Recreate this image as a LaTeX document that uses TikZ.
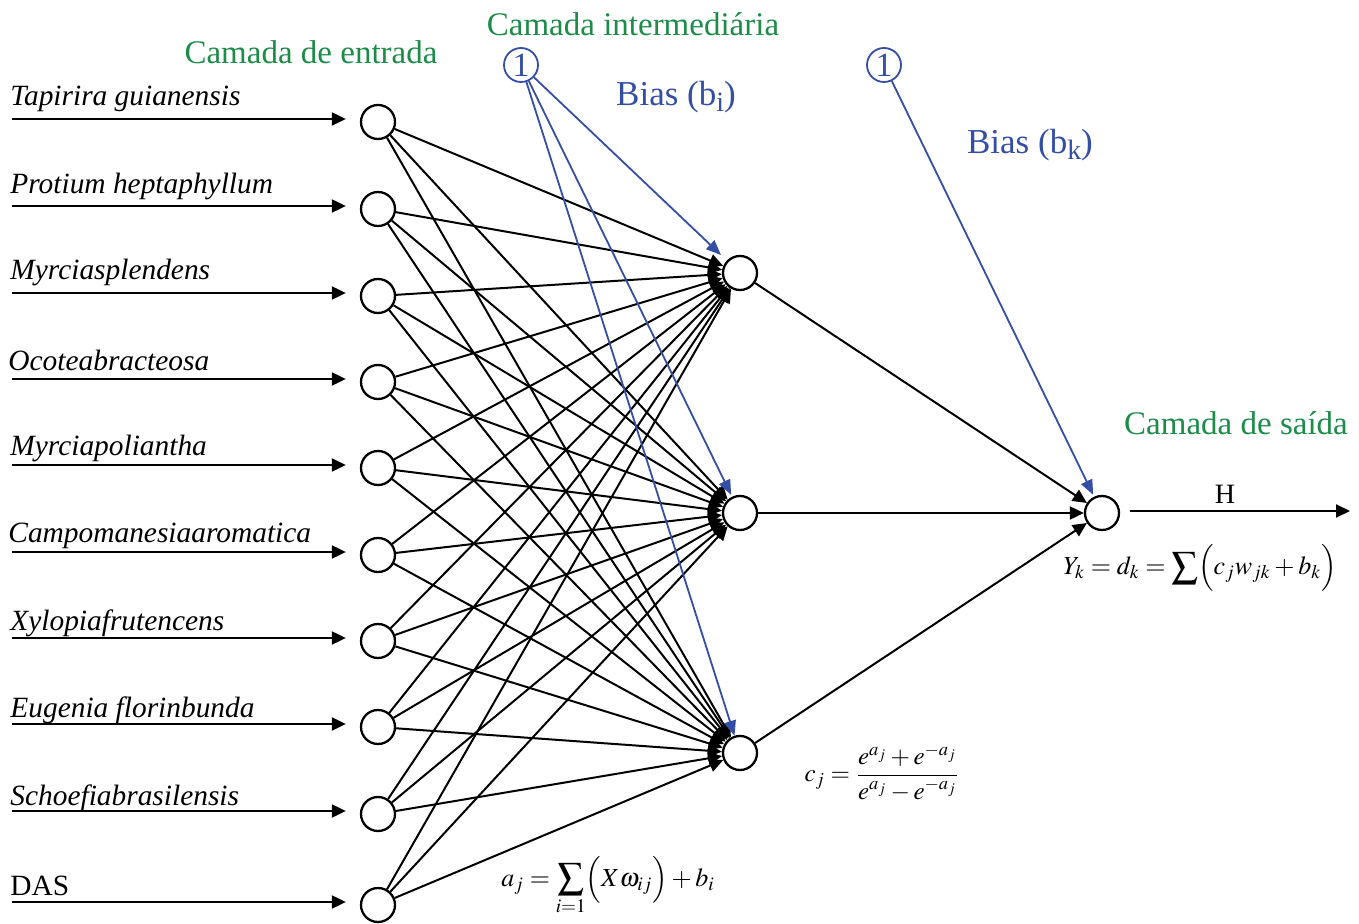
\documentclass[tikz,border=0pt]{standalone}
\usepackage{mathptmx}
\usepackage[no-math]{fontspec}
\setmainfont{Liberation Serif}
\usetikzlibrary{arrows.meta}
\definecolor{lgreen}{RGB}{28,140,72}
\definecolor{lblue}{RGB}{52,78,165}
\tikzset{
  neuron/.style={circle,draw,line width=1.15pt,minimum size=17pt,inner sep=0pt},
  biasnode/.style={circle,draw=lblue,text=lblue,line width=0.9pt,minimum size=17pt,inner sep=0pt,font=\fontsize{17}{17}\selectfont},
  conn/.style={line width=1pt,-{Triangle[length=7pt,width=6.5pt]}},
  bconn/.style={line width=0.9pt,draw=lblue,-{Triangle[length=7.5pt,width=6pt]},lblue},
  inlabel/.style={anchor=base west,inner sep=0pt,font=\fontsize{14.7}{15}\selectfont\itshape},
  greenlabel/.style={text=lgreen,inner sep=0pt,font=\fontsize{16.5}{17}\selectfont},
  bluelabel/.style={text=lblue,inner sep=0pt,font=\fontsize{17.5}{18}\selectfont},
  formula/.style={inner sep=0pt,font=\fontsize{13}{14}\selectfont}
}
\begin{document}
\begin{tikzpicture}[x=0.5pt,y=-0.5pt]
\useasboundingbox (0,0) rectangle (1359,924);
% input nodes
\foreach \i/\y in {1/122,2/209,3/296,4/382,5/468,6/555,7/641,8/727,9/814,10/905}{
  \node[neuron] (n\i) at (378,\y) {};
  \coordinate (s\i) at (12,\y-3);
  \draw[conn,shorten >=7pt] (s\i) -- (n\i.west |- s\i);
}
% labels
\node[inlabel] (l1) at (10,106) {Tapirira guianensis};
\node[inlabel] (l2) at (10,194) {Protium heptaphyllum};
\node[inlabel] (l3) at (10,280) {Myrciasplendens};
\node[inlabel] (l4) at (8,371) {Ocoteabracteosa};
\node[inlabel] (l5) at (10,456) {Myrciapoliantha};
\node[inlabel] (l6) at (8,542) {Campomanesiaaromatica};
\node[inlabel] (l7) at (10,630) {Xylopiafrutencens};
\node[inlabel] (l8) at (10,717) {Eugenia florinbunda};
\node[inlabel] (l9) at (10,805) {Schoefiabrasilensis};
\node[inlabel,font=\fontsize{14.7}{15}\selectfont] (l10) at (10,895) {DAS};
% hidden nodes
\node[neuron] (h1) at (740,273) {};
\node[neuron] (h2) at (740,513) {};
\node[neuron] (h3) at (740,753) {};
% output
\node[neuron] (o) at (1102,513) {};
\coordinate (ostart) at (1130,511);
\coordinate (oend) at (1350,511);
\draw[conn] (ostart) -- (oend);
\node[font=\fontsize{14}{15}\selectfont] (H) at (1225,494) {H};
% mesh
\foreach \i in {1,...,10}{
  \foreach \h in {h1,h2,h3}{
    \draw[conn] (n\i) -- (\h);
  }
}
\foreach \h in {h1,h2,h3}{
  \draw[conn] (\h) -- (o);
}
% bias
\node[biasnode] (b1) at (521,65) {1};
\node[biasnode] (b2) at (884,65) {1};
\draw[bconn,shorten >=4pt] (b1) -- (h1);
\draw[bconn,shorten >=1pt] (b1) -- (h2);
\draw[bconn] (b1) -- (h3);
\draw[bconn,shorten >=1pt] (b2) -- (o);
% titles
\node[greenlabel] (t1) at (311,52) {Camada de entrada};
\node[greenlabel] (t2) at (633,24) {Camada intermediária};
\node[greenlabel] (t3) at (1236,423) {Camada de saída};
\node[bluelabel] (bi) at (676,97) {Bias (b\raisebox{-0.4ex}{\fontsize{14}{14}\selectfont i})};
\node[bluelabel] (bk) at (1030,145) {Bias (b\raisebox{-0.4ex}{\fontsize{14}{14}\selectfont k})};
% formulas
\node[formula] (fy) at (1200,568) {$Y_k = d_k = \displaystyle\sum\Bigl(c_j w_{jk} + b_k\Bigr)$};
\node[formula,font=\fontsize{12.5}{13}\selectfont] (fc) at (882,773) {$\displaystyle c_j = \frac{e^{a_j} + e^{-a_j}}{e^{a_j} - e^{-a_j}}$};
\node[formula] (fa) at (608,886) {$\displaystyle a_j = \sum_{i=1}\Bigl(X\omega_{ij}\Bigr) + b_i$};
\end{tikzpicture}
\end{document}
